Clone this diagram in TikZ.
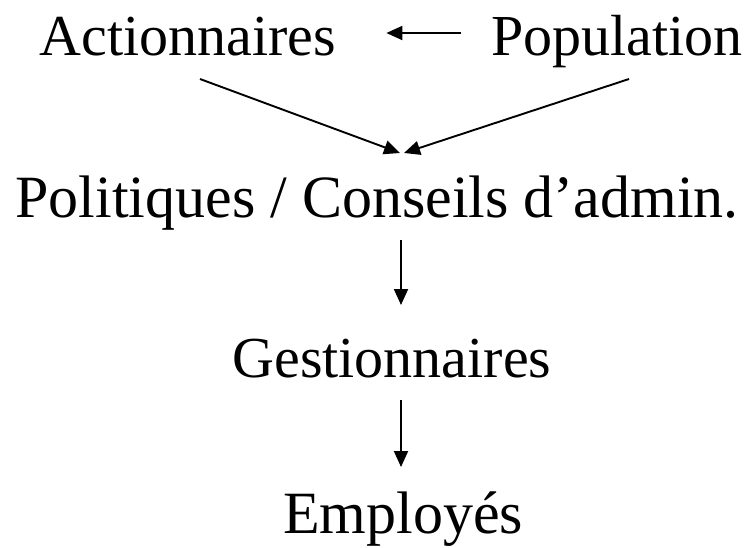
\documentclass[tikz,border=0pt]{standalone}
\usepackage{fontspec}
\setmainfont{Liberation Serif}
\usetikzlibrary{arrows.meta}
\begin{document}
\begin{tikzpicture}[x=1pt,y=-1pt,
  lbl/.style={inner sep=0pt, anchor=base, font=\fontsize{58}{60}\selectfont},
  big/.style={font=\fontsize{60}{62}\selectfont},
  arr/.style={line width=1.9pt, -{Triangle[length=16pt,width=14pt]}}]
\useasboundingbox (0,0) rectangle (749,547);
\node[lbl] (act) at (188,55) {Actionnaires};
\node[lbl] (pop) at (617,55) {Population};
\node[lbl,big] (pol) at (377,217) {Politiques / Conseils d’admin.};
\node[lbl] (ges) at (392,377) {Gestionnaires};
\node[lbl,big] (emp) at (403,533) {Employés};
\draw[arr] ([xshift=-30pt,yshift=22pt]pop.base west) -- ([xshift=50pt,yshift=22pt]act.base east);
\draw[arr] ([xshift=12pt,yshift=-24pt]act.base) -- ([xshift=23pt,yshift=64pt]pol.base);
\draw[arr] ([xshift=12pt,yshift=-24pt]pop.base) -- ([xshift=27pt,yshift=64pt]pol.base);
\draw[arr] ([xshift=24pt,yshift=-23pt]pol.base) -- ([xshift=9pt,yshift=72pt]ges.base);
\draw[arr] ([xshift=9pt,yshift=-23pt]ges.base) -- ([xshift=-2pt,yshift=66pt]emp.base);
\end{tikzpicture}
\end{document}
